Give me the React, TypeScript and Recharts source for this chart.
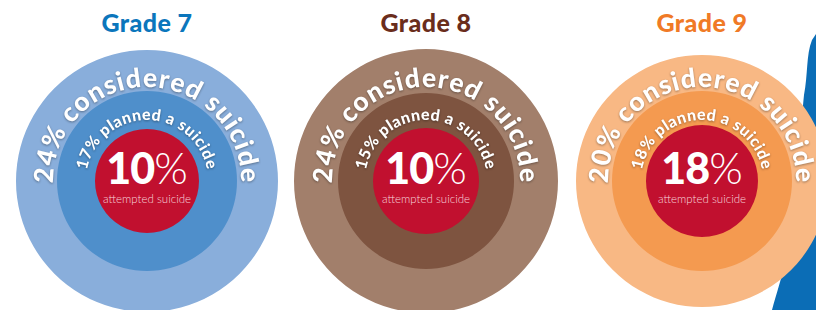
import { PieChart, Pie, Customized } from 'recharts';

const grades = ['Grade 7', 'Grade 8', 'Grade 9'];
const considered = [24, 24, 20];
const planned = [17, 15, 18];
const attempted = [10, 10, 18];

const W = 816;
const H = 310;
const CY = 181;
const centersX = [147, 426, 702];
const outerR = [131, 132, 126];
const midR = [90, 88, 90];
const innerR = [52, 53, 56];

const titleColors = ['#0b76bc', '#6a2d1c', '#f07a26'];
const outerColors = ['#89aedb', '#a27f6b', '#f8b884'];
const midColors = ['#4f8fcb', '#7e5440', '#f49a50'];
const red = '#c1102f';

const FONT = 'Lato, "Open Sans", sans-serif';

// arc going over the top, from lower-left to lower-right, used for textPath
const arcPath = (cx: number, cy: number, r: number) => {
  const a1 = (200 * Math.PI) / 180;
  const a2 = (-20 * Math.PI) / 180;
  const x1 = cx + r * Math.cos(a1);
  const y1 = cy - r * Math.sin(a1);
  const x2 = cx + r * Math.cos(a2);
  const y2 = cy - r * Math.sin(a2);
  return `M ${x1} ${y1} A ${r} ${r} 0 1 1 ${x2} ${y2}`;
};

const shadow = { filter: 'drop-shadow(0px 1px 1px rgba(0,0,0,0.35))' };

const curvedLabel = (id: string, text: string, r: number, size: number, spacing: number) => (p: any) => {
  const cx = Number(p.cx);
  const cy = Number(p.cy);
  return (
    <g>
      <defs>
        <path id={id} d={arcPath(cx, cy, r)} fill="none" />
      </defs>
      <text
        fill="#fff"
        fontFamily={FONT}
        fontWeight={900}
        fontSize={size}
        letterSpacing={spacing}
        style={shadow}
      >
        <textPath href={`#${id}`} startOffset="50%" textAnchor="middle">
          {text}
        </textPath>
      </text>
    </g>
  );
};

const centerLabel = (value: number) => (p: any) => {
  const cx = Number(p.cx);
  const cy = Number(p.cy);
  return (
    <g>
      <text x={cx} y={cy + 3} textAnchor="middle" fill="#fff" fontFamily={FONT} fontSize={43}>
        <tspan fontWeight={900} letterSpacing={-1}>{value}</tspan>
        <tspan fontWeight={300}>%</tspan>
      </text>
      <text x={cx} y={cy + 22} textAnchor="middle" fill="#f6d3da" fontFamily={FONT} fontWeight={300} fontSize={11.5}>
        attempted suicide
      </text>
    </g>
  );
};

const Titles = () => (
  <g>
    {grades.map((g, i) => (
      <text
        key={g}
        x={centersX[i]}
        y={32}
        textAnchor="middle"
        fill={titleColors[i]}
        fontFamily={FONT}
        fontWeight={900}
        fontSize={25}
        letterSpacing={0.4}
      >
        {g}
      </text>
    ))}
  </g>
);

export default function App() {
  return (
    <div style={{ position: 'absolute', left: 0, top: 0, width: W, height: H, background: '#fff', overflow: 'hidden' }}>
      <svg width={W} height={H} style={{ position: 'absolute', left: 0, top: 0 }}>
        <path
          d="M 816 34 L 812 40 C 806 55, 808 75, 804 95 C 800 130, 802 180, 794 225 C 788 258, 778 288, 772 310 L 816 310 Z"
          fill="#0b6db6"
        />
      </svg>
      <div style={{ position: 'absolute', left: 0, top: 0 }}>
        <PieChart width={W} height={H} margin={{ top: 0, right: 0, bottom: 0, left: 0 }}>
          {grades.map((g, i) => [
            <Pie
              key={`o${i}`}
              data={[{ name: 'considered', value: considered[i] }]}
              dataKey="value"
              cx={centersX[i]}
              cy={CY}
              innerRadius={0}
              outerRadius={outerR[i]}
              startAngle={90}
              endAngle={-270}
              fill={outerColors[i]}
              stroke="none"
              isAnimationActive={false}
              labelLine={false}
              label={curvedLabel(`arc-o-${i}`, `${considered[i]}% considered suicide`, 94, 26.5, 1)}
            />,
            <Pie
              key={`m${i}`}
              data={[{ name: 'planned', value: planned[i] }]}
              dataKey="value"
              cx={centersX[i]}
              cy={CY}
              innerRadius={0}
              outerRadius={midR[i]}
              startAngle={90}
              endAngle={-270}
              fill={midColors[i]}
              stroke="none"
              isAnimationActive={false}
              labelLine={false}
              label={curvedLabel(`arc-m-${i}`, `${planned[i]}% planned a suicide`, 61, 16, 0.5)}
            />,
            <Pie
              key={`r${i}`}
              data={[{ name: 'attempted', value: attempted[i] }]}
              dataKey="value"
              cx={centersX[i]}
              cy={CY}
              innerRadius={0}
              outerRadius={innerR[i]}
              startAngle={90}
              endAngle={-270}
              fill={red}
              stroke="none"
              isAnimationActive={false}
              labelLine={false}
              label={centerLabel(attempted[i])}
            />,
          ])}
          <Customized component={Titles} />
        </PieChart>
      </div>
    </div>
  );
}
